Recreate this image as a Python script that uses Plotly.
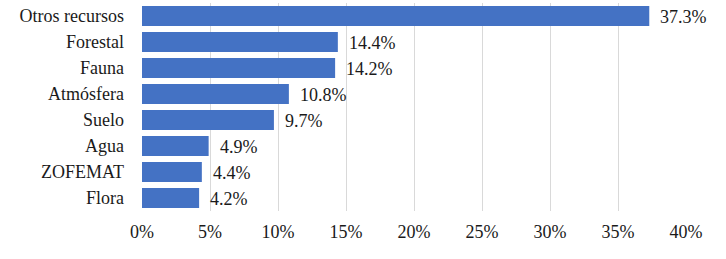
import plotly.graph_objects as go

categories = ["Otros recursos", "Forestal", "Fauna", "Atmósfera", "Suelo", "Agua", "ZOFEMAT", "Flora"]
values = [37.3, 14.4, 14.2, 10.8, 9.7, 4.9, 4.4, 4.2]
tick_vals = [0, 5, 10, 15, 20, 25, 30, 35, 40]
tick_text = ["0%", "5%", "10%", "15%", "20%", "25%", "30%", "35%", "40%"]

FONT = "'Liberation Serif', 'Times New Roman', serif"

fig = go.Figure(go.Bar(
    x=values, y=categories, orientation="h",
    marker=dict(color="#4472C4", line=dict(width=0)),
    hoverinfo="skip",
))

for c, v in zip(categories, values):
    fig.add_annotation(x=v, y=c, text=f"{v:.1f}%", showarrow=False,
                       xanchor="left", xshift=9, yshift=-1,
                       font=dict(family=FONT, size=18, color="#1a1a1a"))

fig.update_layout(
    width=726, height=259,
    margin=dict(l=142, r=40, t=3, b=48, autoexpand=False),
    paper_bgcolor="white", plot_bgcolor="white",
    bargap=0.23,
    showlegend=False,
    font=dict(family=FONT, size=18, color="#1a1a1a"),
)
fig.update_xaxes(range=[0, 40], tickvals=tick_vals, ticktext=tick_text,
                 showgrid=True, gridcolor="#d9d9d9", gridwidth=1, automargin=False,
                 zeroline=False, showline=False, ticks="", ticklabelstandoff=8)
fig.update_yaxes(categoryorder="array", categoryarray=categories[::-1], automargin=False,
                 showgrid=False, zeroline=False, showline=False, ticks="",
                 ticklabelstandoff=17)

fig.write_html("out.html", post_script="document.body.style.margin='0';",
               config={"displayModeBar": False})
